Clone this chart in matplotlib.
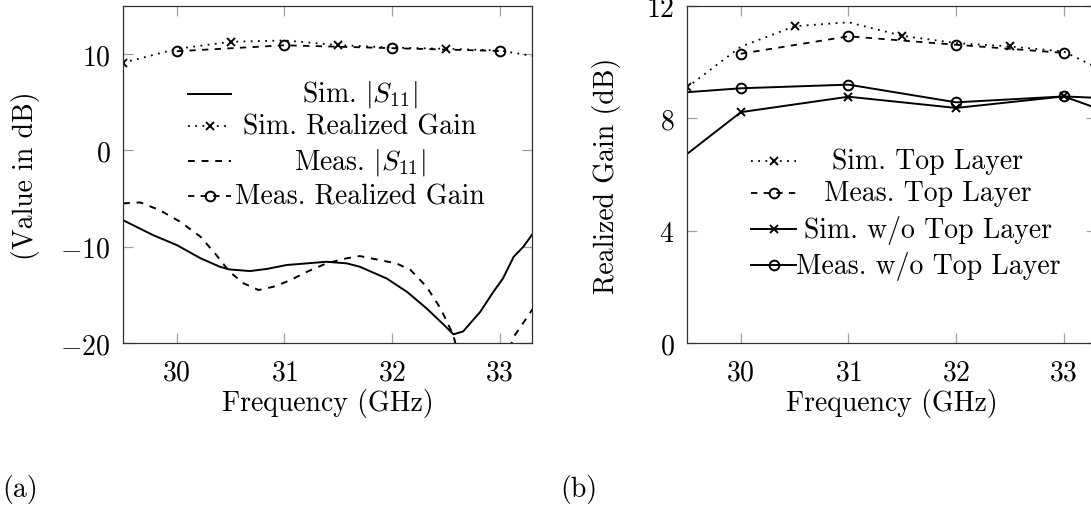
import matplotlib
matplotlib.use("Agg")
import matplotlib.pyplot as plt

plt.rcParams['font.family'] = 'serif'
plt.rcParams['font.serif'] = ['cmr10']
plt.rcParams['mathtext.fontset'] = 'cm'
plt.rcParams['axes.formatter.use_mathtext'] = True
plt.rcParams['font.size'] = 20

# --- panel (a): S11 and realized gain ---
f_sim_s11 = [29.5, 29.78, 30.0, 30.22, 30.4, 30.49, 30.68, 30.84, 31.02, 31.21, 31.39,
             31.58, 31.7, 31.95, 32.14, 32.32, 32.48, 32.57, 32.66, 32.82, 32.94, 33.03,
             33.13, 33.22, 33.31]
sim_s11 = [-7.24, -8.8, -9.83, -11.2, -12.08, -12.36, -12.53, -12.3, -11.9, -11.73, -11.56,
           -11.73, -12.08, -13.3, -14.7, -16.4, -18.1, -19.1, -18.8, -16.75, -14.7, -13.3,
           -11.04, -10.0, -8.6]

f_meas_s11 = [29.5, 29.66, 29.84, 30.03, 30.22, 30.37, 30.49, 30.62, 30.76, 30.9, 31.05,
              31.21, 31.39, 31.58, 31.7, 31.89, 32.04, 32.17, 32.32, 32.45, 32.54, 32.57,
              32.62, 32.75, 32.9, 33.02, 33.14, 33.22, 33.31]
meas_s11 = [-5.5, -5.4, -6.2, -7.4, -8.96, -10.9, -12.6, -13.8, -14.5, -14.15, -13.5,
            -12.6, -11.73, -11.2, -10.97, -11.4, -11.73, -12.4, -14.15, -16.4, -18.5, -19.2,
            -21.5, -24.0, -24.5, -22.5, -19.2, -17.9, -16.4]

# realized gain with the top layer (shared by both panels)
f_sim_gain = [29.5, 30.0, 30.5, 31.0, 31.5, 32.0, 32.5, 33.0, 33.5]
sim_gain = [9.1, 10.55, 11.28, 11.42, 10.94, 10.68, 10.56, 10.38, 9.45]
f_meas_gain = [30, 31, 32, 33]
meas_gain = [10.3, 10.92, 10.62, 10.33]

# --- panel (b): without top layer ---
f_sim_wo = [29.5, 30, 31, 32, 33, 33.5]
sim_wo = [6.73, 8.22, 8.77, 8.37, 8.78, 8.1]
f_meas_wo = [29.5, 30, 31, 32, 33, 33.5]
meas_wo = [8.93, 9.07, 9.2, 8.57, 8.78, 8.7]

W, H = 1091, 506
fig = plt.figure(figsize=(W / 100, H / 100), dpi=100)
axa = fig.add_axes([123 / W, (H - 344) / H, 409 / W, 337 / H])
axb = fig.add_axes([687 / W, (H - 344) / H, 409 / W, 337 / H])

dotted = (0, (1, 3))
dashed = (0, (3.5, 3.5))
lw = 1.4
x_kw = dict(marker='x', ms=5.5, mew=1.4, color='black')
o_kw = dict(marker='o', ms=7, mew=1.4, mfc='none', color='black')

# (a)
axa.plot(f_sim_s11, sim_s11, color='black', lw=lw)
axa.plot(f_sim_gain, sim_gain, ls=dotted, lw=1.3, markevery=slice(0, None, 2), **x_kw)
axa.plot(f_meas_s11, meas_s11, color='black', lw=lw, ls=dashed)
axa.plot(f_meas_gain, meas_gain, ls=dashed, lw=1.3, **o_kw)
axa.set_ylim(-20, 15)
axa.set_yticks([-20, -10, 0, 10])
axa.set_ylabel('(Value in dB)')
axa.yaxis.set_label_coords(-0.203, 0.5)

# (b)
axb.plot(f_sim_gain, sim_gain, ls=dotted, lw=1.3, markevery=slice(0, None, 2), **x_kw)
axb.plot(f_meas_gain, meas_gain, ls=dashed, lw=1.3, **o_kw)
axb.plot(f_sim_wo, sim_wo, lw=lw, markevery=[1, 2, 3, 4], **x_kw)
axb.plot(f_meas_wo, meas_wo, lw=lw, markevery=[1, 2, 3, 4], **o_kw)
axb.set_ylim(0, 12)
axb.set_yticks([0, 4, 8, 12])
axb.set_ylabel('Realized Gain (dB)')
axb.yaxis.set_label_coords(-0.161, 0.5)

for ax in (axa, axb):
    ax.set_xlim(29.5, 33.3)
    ax.set_xticks([30, 31, 32, 33])
    ax.set_xlabel('Frequency (GHz)')
    ax.xaxis.set_label_coords(0.5, -0.135)
    ax.tick_params(direction='in', top=True, right=True, length=7, width=0.9,
                   color='#a0a0a0')
    ax.tick_params(axis='x', pad=12)
    ax.tick_params(axis='y', pad=9)
    for s in ax.spines.values():
        s.set_color('#303030')
        s.set_linewidth(0.9)


def legend_rows(ax, rows, x0, x1, xt, ys):
    # pgfplots-like legend: handles on the left, labels centred in their column
    for (kw, label), y in zip(rows, ys):
        ax.plot([x0, (x0 + x1) / 2, x1], [y, y, y], transform=ax.transAxes,
                clip_on=False, markevery=[1], **kw)
        ax.text(xt, y, label, transform=ax.transAxes, ha='center', va='center')


legend_rows(axa, [
    (dict(color='black', lw=lw), r'Sim. $|S_{11}|$'),
    (dict(ls=dotted, lw=1.3, **x_kw), 'Sim. Realized Gain'),
    (dict(color='black', lw=lw, ls=dashed), r'Meas. $|S_{11}|$'),
    (dict(ls=dashed, lw=1.3, **o_kw), 'Meas. Realized Gain'),
], 0.159, 0.264, 0.579, [0.739, 0.644, 0.540, 0.436])

legend_rows(axb, [
    (dict(ls=dotted, lw=1.3, **x_kw), 'Sim. Top Layer'),
    (dict(ls=dashed, lw=1.3, **o_kw), 'Meas. Top Layer'),
    (dict(lw=lw, **x_kw), 'Sim. w/o Top Layer'),
    (dict(lw=lw, **o_kw), 'Meas. w/o Top Layer'),
], 0.156, 0.267, 0.589, [0.540, 0.445, 0.338, 0.231])

fig.text(2 / W, 1 - 490 / H, '(a)', ha='left', va='center')
fig.text(560 / W, 1 - 490 / H, '(b)', ha='left', va='center')

fig.savefig('out.png', dpi=100)
